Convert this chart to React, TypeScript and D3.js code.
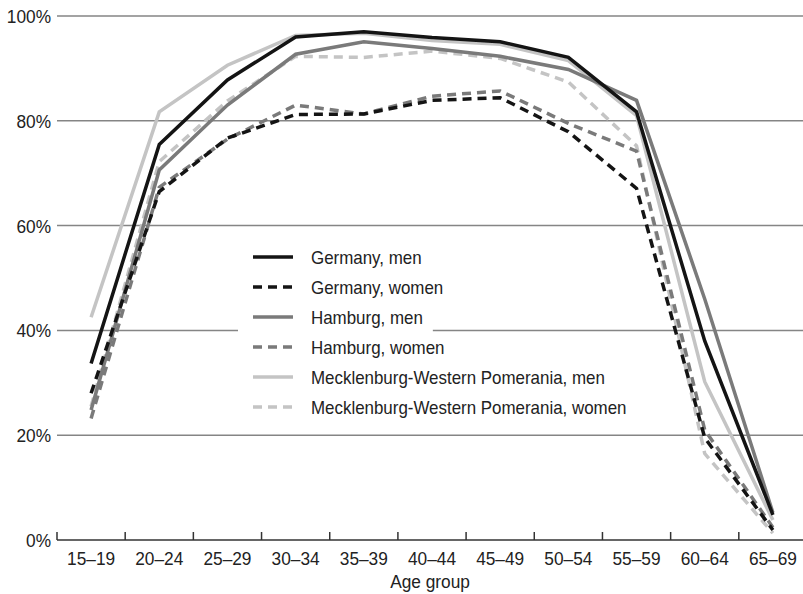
import React, { useEffect, useRef } from "react";
import * as d3 from "d3";

const categories = ["15–19", "20–24", "25–29", "30–34", "35–39", "40–44", "45–49", "50–54", "55–59", "60–64", "65–69"];
const germanyMen = [33.7, 75.5, 87.8, 96.0, 97.0, 95.9, 95.1, 92.1, 81.7, 38.0, 4.8];
const germanyWomen = [28.0, 66.5, 76.7, 81.2, 81.3, 83.9, 84.4, 77.9, 67.1, 19.5, 1.9];
const hamburgMen = [24.8, 70.6, 83.0, 92.7, 95.1, 93.8, 92.3, 89.8, 83.9, 46.0, 5.2];
const hamburgWomen = [23.2, 67.3, 76.5, 83.0, 81.3, 84.7, 85.7, 79.5, 74.2, 21.0, 2.4];
const mvMen = [42.5, 81.7, 90.6, 96.3, 96.7, 95.3, 94.6, 91.5, 81.0, 30.2, 3.8];
const mvWomen = [25.5, 72.2, 83.8, 92.3, 92.1, 93.3, 91.9, 87.4, 75.2, 16.5, 1.3];
const yTicks = [0, 20, 40, 60, 80, 100];
const seriesNames = [
  "Germany, men",
  "Germany, women",
  "Hamburg, men",
  "Hamburg, women",
  "Mecklenburg-Western Pomerania, men",
  "Mecklenburg-Western Pomerania, women",
];

const FONT = "'Liberation Sans', Arial, sans-serif";
const SX = 0.91;

export default function App() {
  const ref = useRef<SVGSVGElement | null>(null);

  useEffect(() => {
    const svg = d3.select(ref.current);
    svg.selectAll("*").remove();

    const series = [
      { name: seriesNames[0], values: germanyMen, color: "#141414", dash: null },
      { name: seriesNames[1], values: germanyWomen, color: "#141414", dash: "9,6" },
      { name: seriesNames[2], values: hamburgMen, color: "#7a7a7a", dash: null },
      { name: seriesNames[3], values: hamburgWomen, color: "#7a7a7a", dash: "9,6" },
      { name: seriesNames[4], values: mvMen, color: "#c4c4c4", dash: null },
      { name: seriesNames[5], values: mvWomen, color: "#c4c4c4", dash: "9,6" },
    ];

    const left = 57, right = 807, top = 16, bottom = 540;
    const x = d3.scaleBand<string>().domain(categories).range([left, right]);
    const y = d3.scaleLinear().domain([0, 100]).range([bottom, top]);

    const label = (parent: any, tx: number, ty: number, txt: string, anchor: string, size = 19) =>
      parent.append("text")
        .attr("transform", `translate(${tx},${ty}) scale(${SX},1)`)
        .attr("text-anchor", anchor)
        .attr("font-family", FONT).attr("font-size", size).attr("fill", "#222")
        .text(txt);

    // gridlines
    const g = svg.append("g");
    yTicks.filter((t) => t > 0).forEach((t) => {
      g.append("line")
        .attr("x1", left).attr("x2", 803)
        .attr("y1", y(t)).attr("y2", y(t))
        .attr("stroke", "#858585").attr("stroke-width", 1.5);
    });
    yTicks.forEach((t) => {
      label(g, 51, y(t) + 7, t + "%", "end");
    });

    // x axis
    g.append("line")
      .attr("x1", left).attr("x2", 803)
      .attr("y1", bottom).attr("y2", bottom)
      .attr("stroke", "#333").attr("stroke-width", 1.5);
    categories.forEach((c) => {
      const xs = x(c)!;
      g.append("line")
        .attr("x1", xs).attr("x2", xs)
        .attr("y1", bottom).attr("y2", bottom - 8)
        .attr("stroke", "#333").attr("stroke-width", 1.5);
      label(g, xs + x.bandwidth() / 2, 565, c, "middle");
    });
    label(g, 430, 588, "Age group", "middle");

    // lines
    const line = d3.line<number>()
      .x((_, i) => x(categories[i])! + x.bandwidth() / 2)
      .y((d) => y(d));
    const order = [5, 4, 3, 2, 1, 0];
    order.forEach((i) => {
      const s = series[i];
      svg.append("path")
        .attr("d", line(s.values))
        .attr("fill", "none")
        .attr("stroke", s.color)
        .attr("stroke-width", 3.5)
        .attr("stroke-linejoin", "miter")
        .attr("stroke-dasharray", s.dash);
    });

    // legend
    const lg = svg.append("g");
    series.forEach((s, i) => {
      const ry = 257 + i * 30;
      const item = lg.append("g");
      const rect = item.append("rect").attr("fill", "white");
      item.append("line")
        .attr("x1", 253).attr("x2", 293).attr("y1", ry).attr("y2", ry)
        .attr("stroke", s.color).attr("stroke-width", 3.5)
        .attr("stroke-dasharray", s.dash ? "9,6" : null);
      const t = label(item, 311, ry + 6.5, s.name, "start", 18.6);
      const w = (t.node() as SVGTextElement).getComputedTextLength() * SX;
      rect.attr("x", 238).attr("y", ry - 15).attr("width", 311 + w + 10 - 238).attr("height", 30);
    });
  }, []);

  return (
    <svg
      ref={ref}
      width={803}
      height={594}
      style={{ position: "absolute", left: 0, top: 0, background: "white" }}
    />
  );
}
